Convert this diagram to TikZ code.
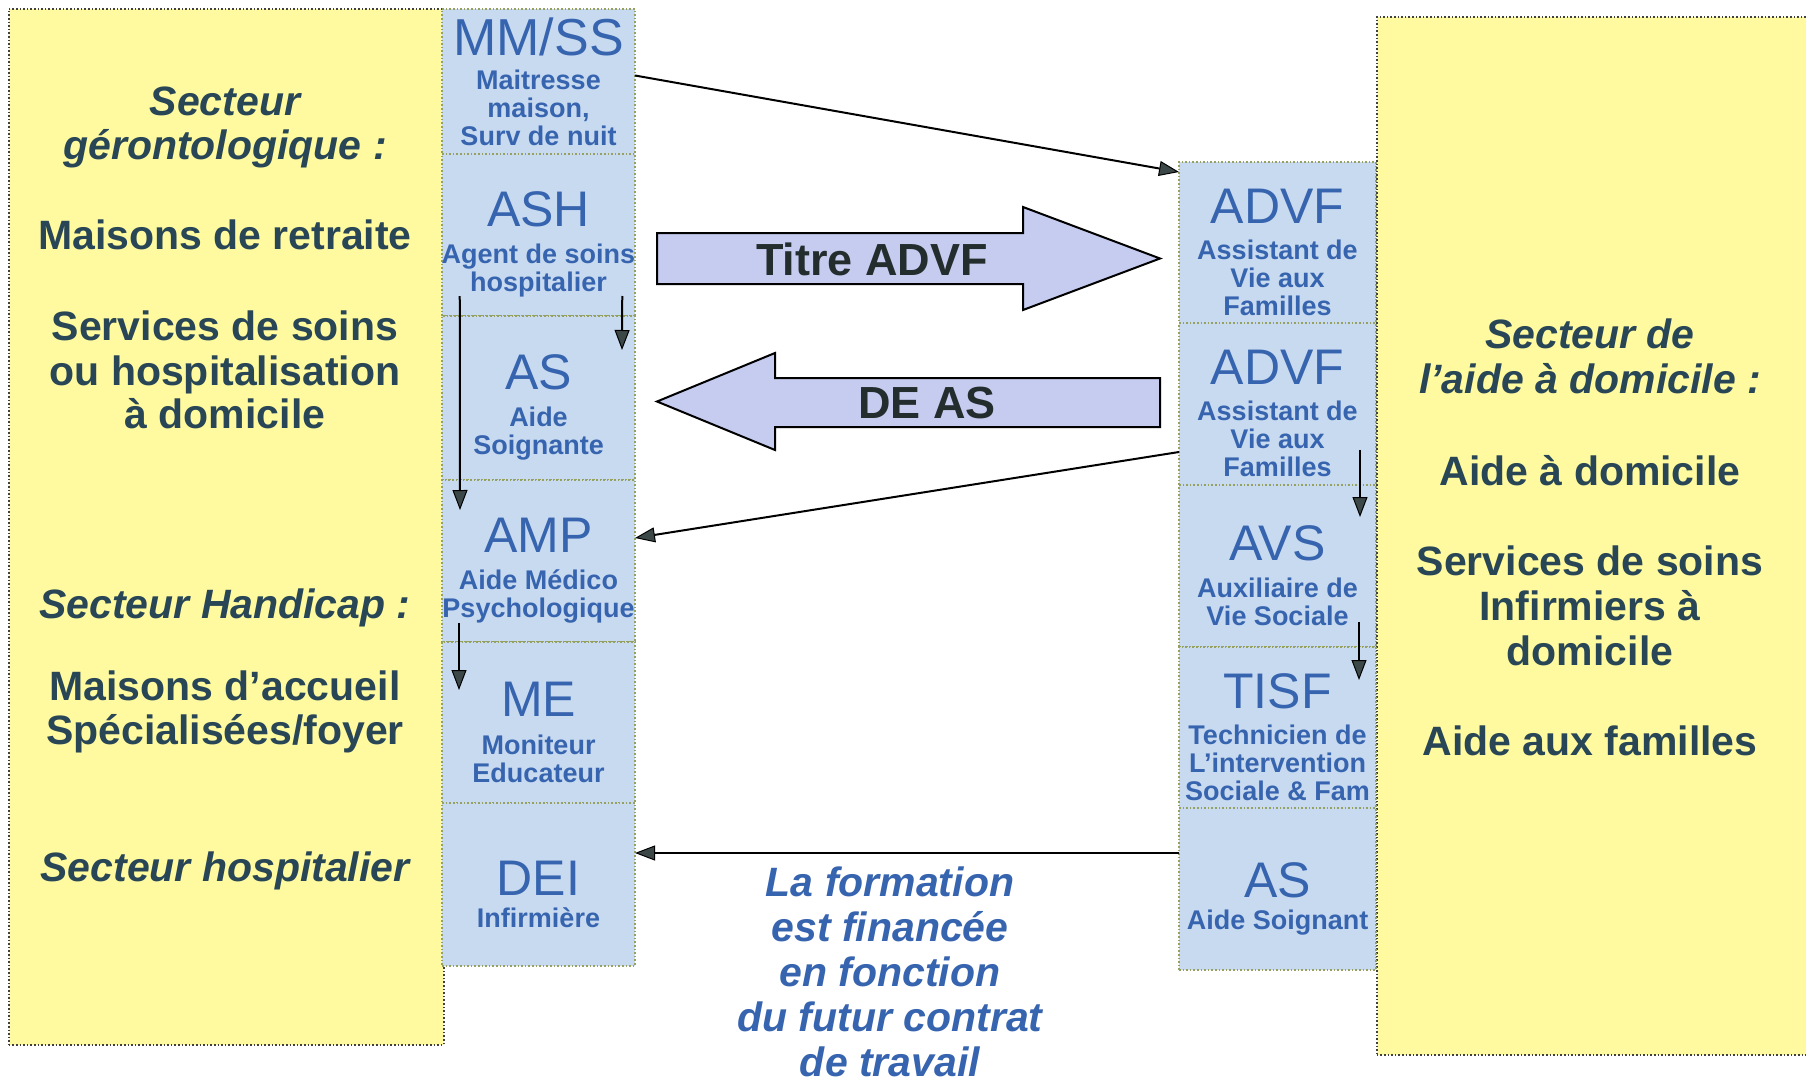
\documentclass[tikz,border=0pt]{standalone}
\usepackage{fontspec}
\setmainfont{Liberation Sans}
\usepackage{xcolor}
\usepackage{tikz}
\usetikzlibrary{arrows.meta}

\definecolor{panelyellow}{RGB}{255,250,160}
\definecolor{cellblue}{RGB}{200,218,240}
\definecolor{abblue}{RGB}{55,100,175}
\definecolor{sectortxt}{RGB}{40,70,85}
\definecolor{dotline}{RGB}{150,160,95}
\definecolor{arrowfill}{RGB}{198,204,240}
\definecolor{headgray}{RGB}{60,72,72}
\definecolor{blocktxt}{RGB}{35,45,45}

\newcommand{\sectfont}{\fontsize{41}{45}\selectfont\bfseries}
\newcommand{\abfont}{\fontsize{50}{50}\selectfont\mdseries}
\newcommand{\cellfont}{\fontsize{27}{28}\selectfont\bfseries}
\newcommand{\blockfont}{\fontsize{45}{45}\selectfont\bfseries}
% job title with a strut that lowers the cell text a little
\newcommand{\jobtitle}[1]{{\abfont\rule{0pt}{54pt}#1}}

\begin{document}
\begin{tikzpicture}[x=1pt, y=-1pt,
    panel/.style={draw=black!75, dotted, line width=1.6pt, fill=panelyellow, inner sep=0pt},
    cell/.style={draw=dotline, dotted, line width=1.6pt, fill=cellblue, inner sep=0pt,
        outer sep=0pt, align=center, text=abblue, font=\cellfont},
    sect/.style={anchor=base, text=sectortxt, font=\sectfont},
    sectit/.style={anchor=base, text=sectortxt, font=\sectfont\itshape},
    note/.style={anchor=base, text=abblue, font=\sectfont\itshape},
    blockarrow/.style={draw=black, line width=2pt, fill=arrowfill, line join=miter},
    blocklabel/.style={text=blocktxt, font=\blockfont},
    link/.style={draw=black, line width=2pt,
        -{Triangle[length=20pt, width=15pt, fill=headgray, line width=1pt]}}]

        % page
        \useasboundingbox (0, 0) rectangle (1806, 1078);
        \fill[white] (0, 0) rectangle (1806, 1078);

        % sector panels
        \node[panel, anchor=north west, minimum width=435, minimum height=1036] (gerobox) at (8, 8) {};
        \node[panel, anchor=north west, minimum width=430, minimum height=1038] (domibox) at (1376, 16) {};

        % left column of jobs
        \node[cell, minimum width=193, minimum height=145] (mmss) at (538.5, 81.5)
            {{\abfont\fontsize{52}{52}\selectfont MM/SS}\\[6pt]Maitresse\\maison,\\Surv de nuit};
        \node[cell, minimum width=193, minimum height=162] (ash) at (538.5, 235)
            {\jobtitle{ASH}\\[9.5pt]Agent de soins\\hospitalier};
        \node[cell, minimum width=193, minimum height=164] (asl) at (538.5, 398)
            {\jobtitle{AS}\\[9.5pt]Aide\\Soignante};
        \node[cell, minimum width=193, minimum height=162] (amp) at (538.5, 561)
            {\jobtitle{AMP}\\[9.5pt]Aide Médico\\Psychologique};
        \node[cell, minimum width=193, minimum height=161] (me) at (538.5, 722.5)
            {\jobtitle{ME}\\[9.5pt]Moniteur\\Educateur};
        \node[cell, minimum width=193, minimum height=163] (dei) at (538.5, 884.5)
            {\jobtitle{DEI}\\[4pt]Infirmière};

        % right column of jobs
        \node[cell, minimum width=197, minimum height=161] (advfa) at (1277.5, 242.5)
            {\jobtitle{ADVF}\\[8pt]Assistant de\\Vie aux\\Familles};
        \node[cell, minimum width=197, minimum height=162] (advfb) at (1277.5, 404)
            {\jobtitle{ADVF}\\[8pt]Assistant de\\Vie aux\\Familles};
        \node[cell, minimum width=197, minimum height=162] (avs) at (1277.5, 566)
            {\jobtitle{AVS}\\[9.5pt]Auxiliaire de\\Vie Sociale};
        \node[cell, minimum width=197, minimum height=161] (tisf) at (1277.5, 727.5)
            {\jobtitle{TISF}\\[8pt]Technicien de\\L’intervention\\Sociale \& Fam};
        \node[cell, minimum width=197, minimum height=162] (asr) at (1277.5, 889)
            {\jobtitle{AS}\\[4pt]Aide Soignant};

        % left panel text
        \node[sectit] (gero1) at (225, 116) {Secteur};
        \node[sectit] (gero2) at (225, 160) {gérontologique :};
        \node[sect] (gero3) at (225, 249) {Maisons de retraite};
        \node[sect] (gero4) at (225, 340) {Services de soins};
        \node[sect] (gero5) at (225, 385) {ou hospitalisation};
        \node[sect] (gero6) at (225, 428) {à domicile};
        \node[sectit] (hand1) at (225, 618) {Secteur Handicap :};
        \node[sect] (hand2) at (225, 700) {Maisons d’accueil};
        \node[sect] (hand3) at (225, 744) {Spécialisées/foyer};
        \node[sectit] (hosp) at (225, 881) {Secteur hospitalier};

        % right panel text
        \node[sectit] (domi1) at (1590, 348) {Secteur de};
        \node[sectit] (domi2) at (1590, 393) {l’aide à domicile :};
        \node[sect] (domi3) at (1590, 485) {Aide à domicile};
        \node[sect] (domi4) at (1590, 575) {Services de soins};
        \node[sect] (domi5) at (1590, 620) {Infirmiers à};
        \node[sect] (domi6) at (1590, 665) {domicile};
        \node[sect] (domi7) at (1590, 755) {Aide aux familles};

        % block arrows
        \draw[blockarrow] (657, 233) -- (1023, 233) -- (1023, 207) -- (1160, 258.5)
            -- (1023, 310) -- (1023, 284) -- (657, 284) -- cycle;
        \node[blocklabel] (titre) at (872, 259) {Titre ADVF};
        \draw[blockarrow] (1160, 378) -- (775, 378) -- (775, 353) -- (657, 401.5)
            -- (775, 450) -- (775, 427) -- (1160, 427) -- cycle;
        \node[blocklabel] (deas) at (927, 403) {DE AS};

        % links between jobs
        \draw[link] ([yshift=6]mmss.east) -- ([yshift=-10]advfa.north west);
        \draw[link] ([yshift=-48]advfb.west) -- ([yshift=23]amp.east);
        \draw[link] ([yshift=36]asr.west) -- ([yshift=31.5]dei.east);
        \draw[link] ([xshift=18, yshift=20]ash.south west) -- ([xshift=18, yshift=-30]amp.north west);
        \draw[link] ([xshift=-13, yshift=20]ash.south east) -- ([xshift=-13, yshift=-34]asl.north east);
        \draw[link] ([xshift=17, yshift=19]amp.south west) -- ([xshift=17, yshift=-48]me.north west);
        \draw[link] ([xshift=-16, yshift=35]advfb.south east) -- ([xshift=-16, yshift=-32]avs.north east);
        \draw[link] ([xshift=-17, yshift=25]avs.south east) -- ([xshift=-17, yshift=-33]tisf.north east);

        % funding note
        \node[note] (fin1) at (890, 896) {La formation};
        \node[note] (fin2) at (890, 941) {est financée};
        \node[note] (fin3) at (890, 986) {en fonction};
        \node[note] (fin4) at (890, 1031) {du futur contrat};
        \node[note] (fin5) at (890, 1076) {de travail};
\end{tikzpicture}
\end{document}
